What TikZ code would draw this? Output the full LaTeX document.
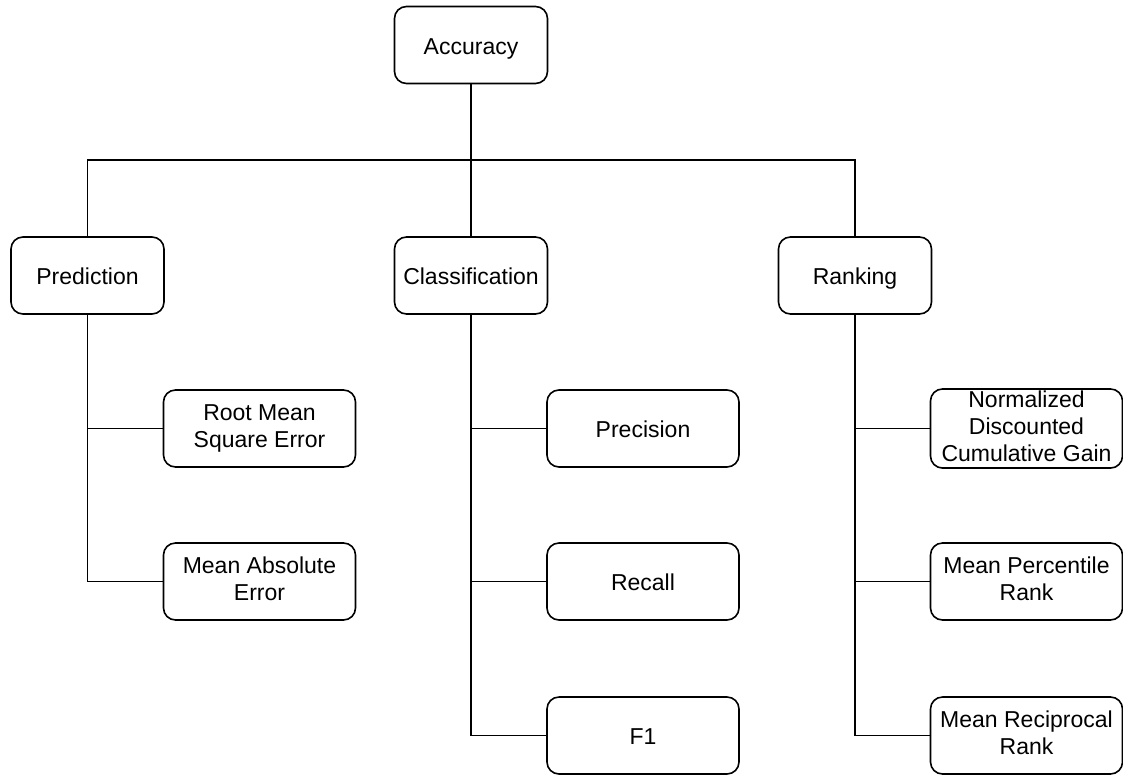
\documentclass[tikz,border=0pt]{standalone}
\usepackage{fontspec}
\setmainfont{Liberation Sans}
% struts on the first and last line so every label sits at the same height
\newcommand\topstrut{\rule{0pt}{23.5pt}}
\newcommand\botstrut{\rule[-5pt]{0pt}{5pt}}
\begin{document}
\begin{tikzpicture}[x=1pt,y=-1pt,
  box/.style={draw, line width=1.6pt, rounded corners=12pt, align=center,
    inner sep=2pt, font=\fontsize{23}{26.7}\selectfont,
    execute at begin node=\topstrut, execute at end node=\botstrut},
  topbox/.style={box, minimum width=153pt, minimum height=77pt},
  leafbox/.style={box, minimum width=192pt, minimum height=77pt},
  link/.style={line width=1.6pt}]
\useasboundingbox (0,0) rectangle (1123,774);

% root and categories
\node[topbox] (acc)  at (471,45)     {Accuracy};
\node[topbox] (pred) at (87.5,275.5) {Prediction};
\node[topbox] (cls)  at (471,275.5)  {Classification};
\node[topbox] (rank) at (855,275.5)  {Ranking};

% prediction metrics
\node[leafbox] (rmse) at (259.5,428.5) {Root Mean\\Square Error};
\node[leafbox] (mae)  at (259.5,581.5) {Mean Absolute\\Error};

% classification metrics
\node[leafbox] (prec) at (643,428.5) {Precision};
\node[leafbox] (rec)  at (643,581.5) {Recall};
\node[leafbox] (f1)   at (643,735.5) {F1};

% ranking metrics
\node[leafbox] (ndcg) at (1026.5,428.5) {Normalized\\Discounted\\Cumulative Gain};
\node[leafbox] (mpr)  at (1026.5,581.5) {Mean Percentile\\Rank};
\node[leafbox] (mrr)  at (1026.5,735.5) {Mean Reciprocal\\Rank};

% tree connectors
\coordinate (hub) at (471,160);
\draw[link] (acc.south) -- (cls.north);
\draw[link] (pred.north) |- (hub) -| (rank.north);

\draw[link] (pred.south) |- (mae.west);
\draw[link] (pred.south |- rmse.west) -- (rmse.west);

\draw[link] (cls.south) |- (f1.west);
\draw[link] (cls.south |- prec.west) -- (prec.west);
\draw[link] (cls.south |- rec.west) -- (rec.west);

\draw[link] (rank.south) |- (mrr.west);
\draw[link] (rank.south |- ndcg.west) -- (ndcg.west);
\draw[link] (rank.south |- mpr.west) -- (mpr.west);
\end{tikzpicture}
\end{document}
